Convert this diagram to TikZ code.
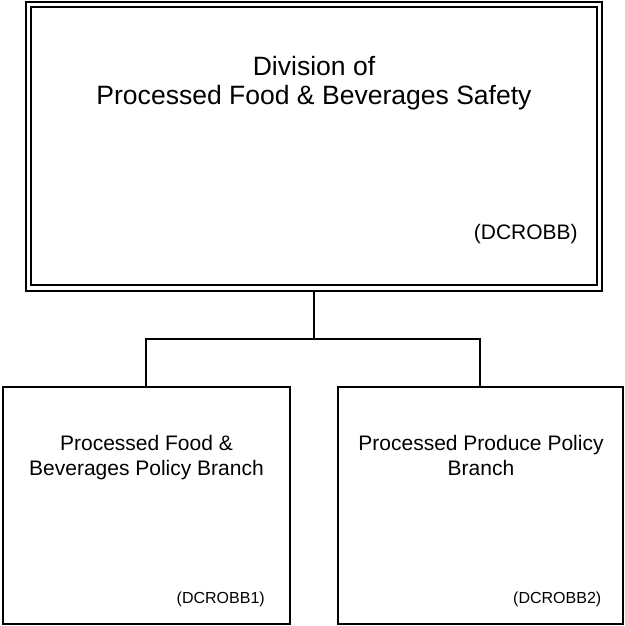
\documentclass[tikz,border=0pt]{standalone}
\usepackage{fontspec}
\setmainfont{Liberation Sans}
\usepackage{tikz}
\tikzset{divbox/.style={draw=black, double=white, line width=1.5pt, double distance=2.6pt, outer sep=2.8pt, inner sep=0pt, minimum width=428.25pt, minimum height=212.6pt}, branchbox/.style={draw=black, line width=1.5pt, inner sep=0pt, minimum height=177.75pt}}
\tikzset{divtitle/.style={align=center, inner sep=0pt, anchor=north, font=\fontsize{19.9pt}{22pt}\selectfont}, branchtitle/.style={align=center, inner sep=0pt, anchor=north, font=\fontsize{15.75pt}{18.75pt}\selectfont}, codetext/.style={inner sep=0pt, anchor=base east}}

\begin{document}
\begin{tikzpicture}[x=0.75pt, y=-0.75pt]
\useasboundingbox (0,0) rectangle (625,626);
\node[divbox] (div) at (314.25,146.25) {};
\node[branchbox, minimum width=215.25pt] (pfb) at (146.25,505.5) {};
\node[branchbox, minimum width=213.75pt] (ppp) at (480,505.5) {};
\node[divtitle] (divname) at (314,55.7) {Division of\\Processed Food \& Beverages Safety};
\node[codetext, font=\fontsize{15.75pt}{18.75pt}\selectfont] (divcode) at (578,239) {(DCROBB)};
\node[branchtitle] (pfbname) at (146.5,434.7) {Processed Food \&\\Beverages Policy Branch};
\node[branchtitle] (pppname) at (481,434.7) {Processed Produce Policy\\Branch};
\node[codetext, font=\fontsize{12pt}{14pt}\selectfont] (pfbcode) at (265,603.6) {(DCROBB1)};
\node[codetext, font=\fontsize{12pt}{14pt}\selectfont] (pppcode) at (601.5,603.6) {(DCROBB2)};
\coordinate (split) at (314.25,339);
\draw[line width=1.5pt] (div.south) -- (split);
\draw[line width=1.5pt] (pfb.north) |- (split) -| (ppp.north);
\end{tikzpicture}
\end{document}
